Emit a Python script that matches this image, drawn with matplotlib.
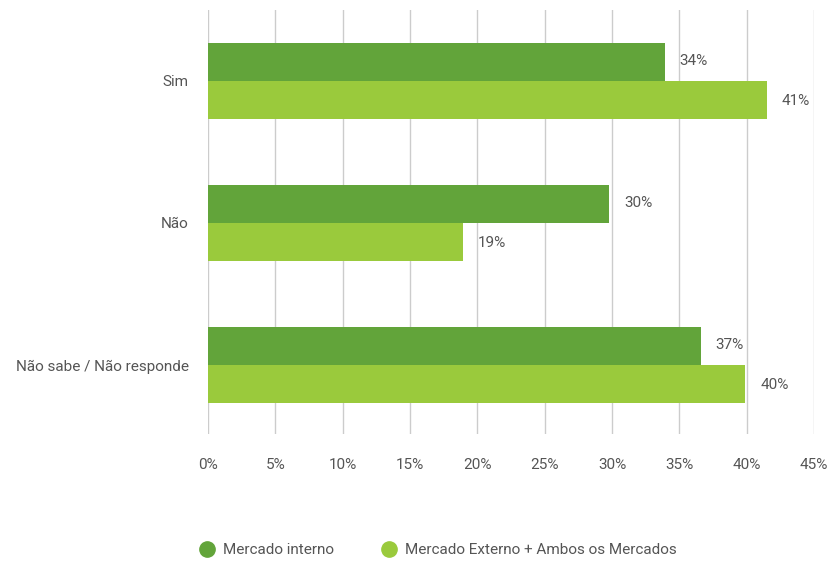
import numpy as np
import matplotlib.pyplot as plt
from matplotlib.lines import Line2D

categories = ["Sim", "Não", "Não sabe / Não responde"]
interno = [33.9, 29.8, 36.6]
externo = [41.5, 18.9, 39.9]
interno_labels = ["34%", "30%", "37%"]
externo_labels = ["41%", "19%", "40%"]
series_names = ["Mercado interno", "Mercado Externo + Ambos os Mercados"]
xticks = [0, 5, 10, 15, 20, 25, 30, 35, 40, 45]

dark = "#62a43a"
light = "#9aca3c"
text_color = "#555555"

plt.rcParams['font.family'] = ['Roboto', 'DejaVu Sans']

fig = plt.figure(figsize=(8.29, 5.61), dpi=100)
ax = fig.add_axes([208 / 829, 1 - 434 / 561, (814 - 208) / 829, (434 - 10) / 561])

y = np.arange(len(categories))
h = 0.265
ax.barh(y - h / 2, interno, height=h, color=dark, zorder=2)
ax.barh(y + h / 2, externo, height=h, color=light, zorder=2)

for i in range(len(categories)):
    ax.text(interno[i] + 1.1, y[i] - h / 2 - 0.005, interno_labels[i], va="center", ha="left",
            fontsize=11, color=text_color)
    ax.text(externo[i] + 1.1, y[i] + h / 2 + 0.01, externo_labels[i], va="center", ha="left",
            fontsize=11, color=text_color)

ax.set_xlim(0, 45)
ax.set_ylim(2.486, -0.5)
ax.set_xticks(xticks)
ax.set_xticklabels([f"{t}%" for t in xticks], fontsize=11, color=text_color)
ax.set_yticks(y)
ax.set_yticklabels(categories, fontsize=11, color=text_color)
ax.tick_params(length=0)
ax.tick_params(axis="x", pad=17)
ax.tick_params(axis="y", pad=14)
ax.grid(axis="x", color="#cccccc", linewidth=1, zorder=0)
for s in ax.spines.values():
    s.set_visible(False)

handles = [Line2D([], [], marker="o", linestyle="", markersize=11, color=dark),
           Line2D([], [], marker="o", linestyle="", markersize=11, color=light)]
leg = fig.legend(handles, series_names, loc="center left", bbox_to_anchor=(199 / 829, 1 - 550 / 561),
                 ncol=2, frameon=False, fontsize=11, handletextpad=0.45, columnspacing=3.1,
                 handlelength=1.1, borderpad=0, borderaxespad=0)
for t in leg.get_texts():
    t.set_color(text_color)

fig.savefig("out.png", dpi=100)
